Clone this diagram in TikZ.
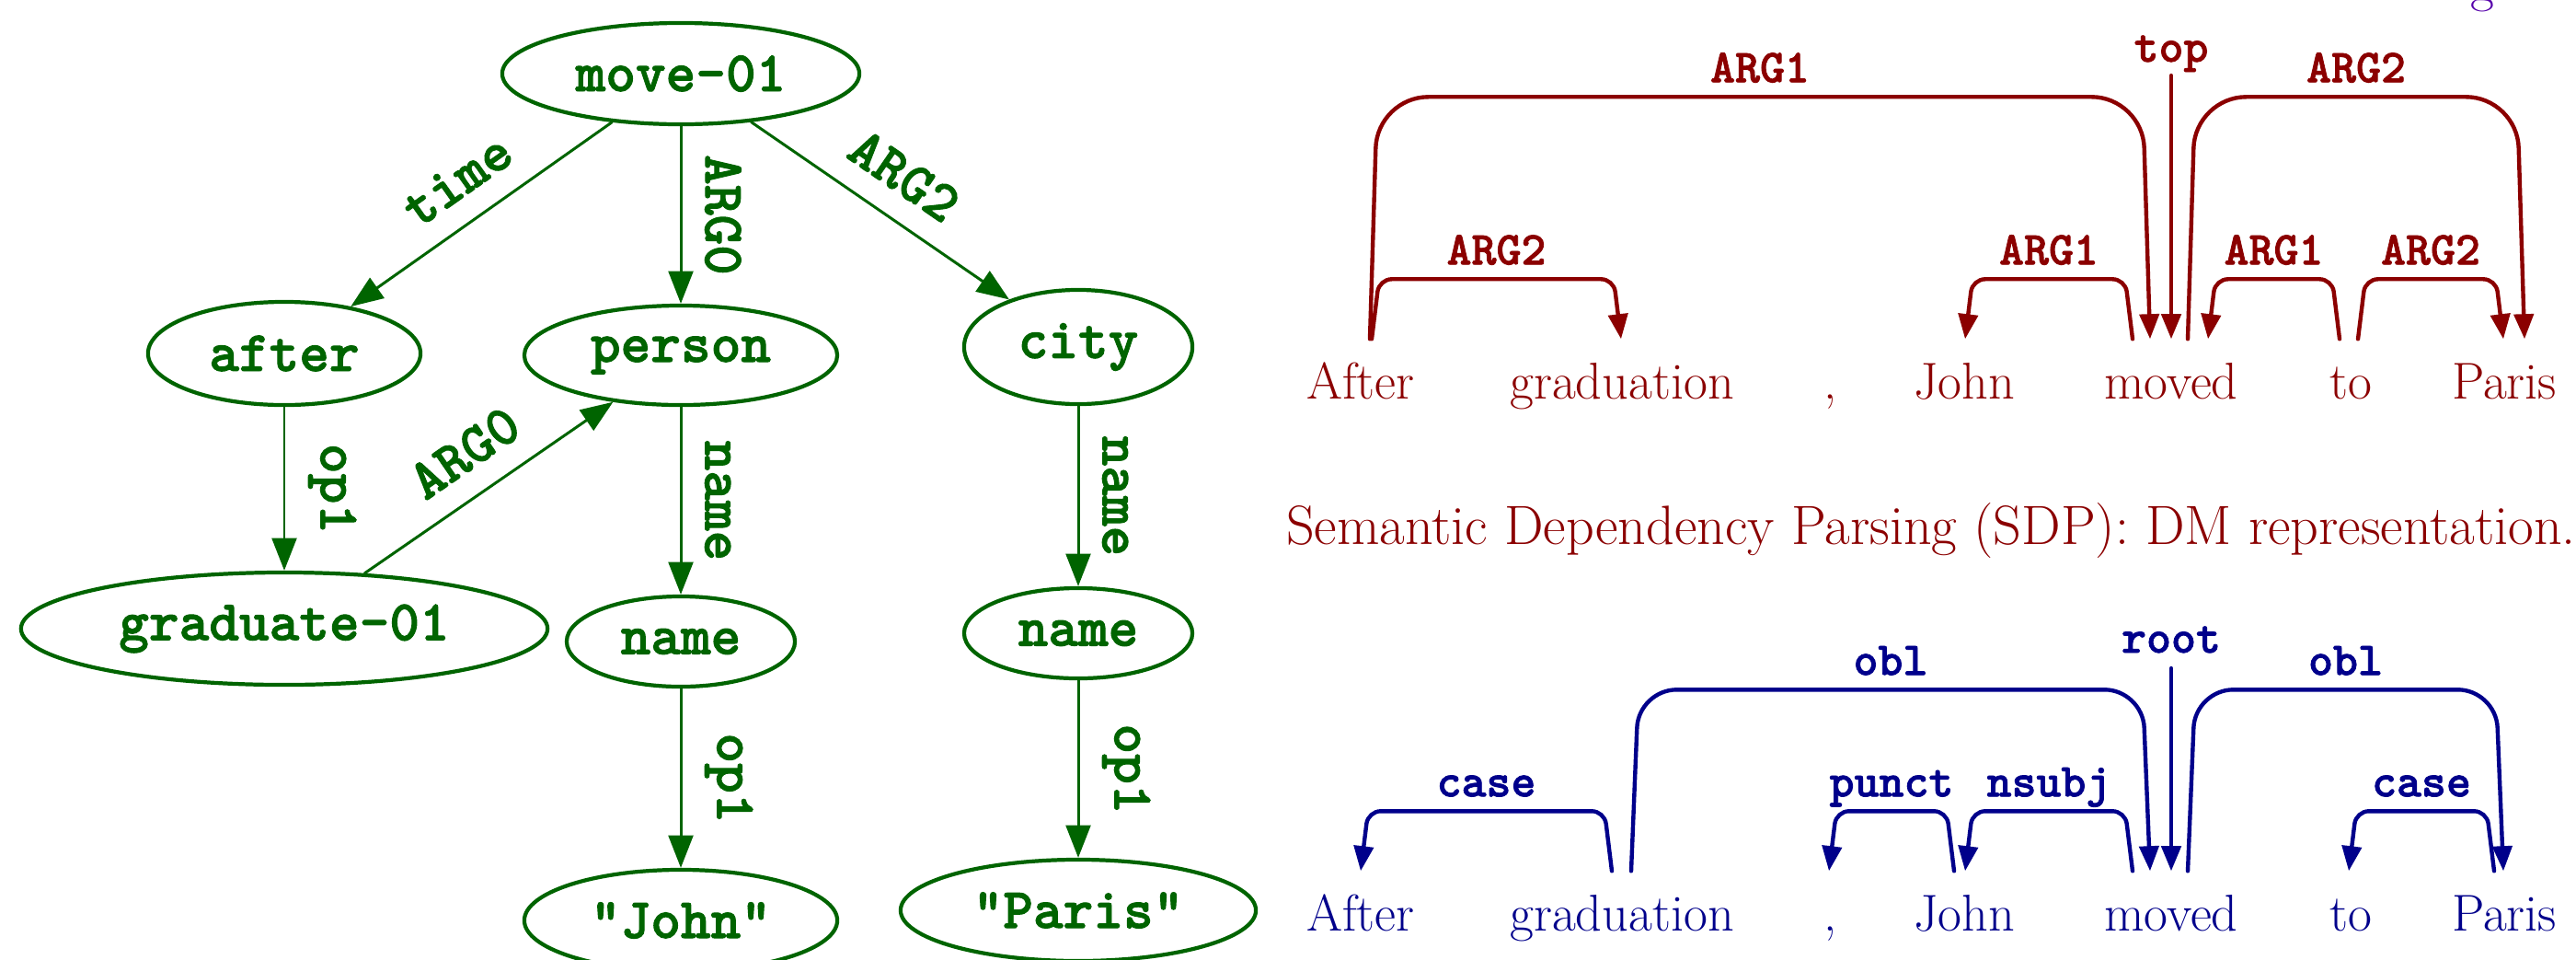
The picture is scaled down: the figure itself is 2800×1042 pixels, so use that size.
\documentclass[tikz,border=0pt]{standalone}
\usepackage{fontspec}
\usepackage{xcolor}
\usepackage{tikz}
\usetikzlibrary{shapes,arrows.meta,positioning,calc}

\newfontfamily\codefont[FakeBold=1.5]{lmmonolt10-bold.otf}

\definecolor{amrgreen}{RGB}{0,100,0}
\definecolor{dmred}{RGB}{139,0,0}
\definecolor{udblue}{RGB}{0,0,139}
\definecolor{capviolet}{RGB}{85,0,170}

\begin{document}
\begin{tikzpicture}[x=0.01cm, y=-0.01cm, line cap=round,
  amr/.style={ellipse, draw, line width=1.2pt, inner sep=0pt, font=\fontsize{17.7}{21}\codefont},
  rel/.style={line width=0.85pt, -{Triangle[length=10pt, width=7.6pt]}},
  rellabel/.style={sloped, above, inner sep=7pt, font=\fontsize{17.7}{21}\codefont},
  word/.style={anchor=base, inner xsep=0pt, inner ysep=6.2pt, text height=12pt, text depth=3pt, font=\fontsize{16}{19}\selectfont},
  dep/.style={line width=1.25pt, -{Triangle[length=7.7pt, width=6pt]}},
  deplabel/.style={anchor=base, inner sep=0pt, font=\fontsize{14.6}{17}\codefont},
  arclabel/.style={deplabel, yshift=0.16cm}]
\useasboundingbox (0,0) rectangle (2800,1042);

% AMR graph
\begin{scope}[amrgreen]
\node [amr, minimum width=3.88cm, minimum height=1.1cm] (move) at (740,80) {move-01};
\node [amr, minimum width=2.96cm, minimum height=1.12cm] (after) at (309,384) {after};
\node [amr, minimum width=3.40cm, minimum height=1.08cm] (person) at (740,386) {person};
\node [amr, minimum width=2.48cm, minimum height=1.24cm] (city) at (1172,377) {city};
\node [amr, minimum width=5.72cm, minimum height=1.22cm] (graduate) at (309,683) {graduate-01};
\node [amr, minimum width=2.48cm, minimum height=0.98cm] (name1) at (740,697) {name};
\node [amr, minimum width=2.48cm, minimum height=0.98cm] (name2) at (1172,688) {name};
\node [amr, minimum width=3.40cm, minimum height=1.1cm] (john) at (740,1000) {"John"};
\node [amr, minimum width=3.86cm, minimum height=1.1cm] (paris) at (1172,989) {"Paris"};

% Relations
\foreach \a/\b/\l in {move/after/time, move/city/ARG2, graduate/person/ARG0}
  \draw [rel] (\a) -- node [rellabel] {\l} (\b);

\foreach \a/\b/\l in {move/person/ARG0, after/graduate/op1, person/name1/name, name1/john/op1, city/name2/name, name2/paris/op1}
  \draw [rel] (\a) -- node [rellabel, allow upside down] {\l} (\b);
\end{scope}

% clipped caption above
\node [anchor=base, inner sep=0pt, capviolet, font=\fontsize{16}{19}\selectfont] (capg) at (2698,1) {g};

% DM graph
\foreach \w/\x [count=\i] in {After/1479, graduation/1763, {,}/1990, John/2135, moved/2360, to/2555, Paris/2722}
  \node [word, dmred] (dm-\i) at (\x,433) {\w};

\foreach \a/\sa/\b/\sb/\h/\s/\l in {1/10/5/-23/263/8/ARG1, 1/12/2/-1/65/8/ARG2, 5/-42/4/1/65/-8/ARG1, 5/18/7/22/263/8/ARG2, 6/-12/5/40/65/-8/ARG1, 6/8/7/-1/65/8/ARG2}
{
  \pgfmathsetmacro\r{0.06*\h}
  \draw [dep, dmred, rounded corners=\r pt] ([xshift=\sa*0.01cm]dm-\a.north) -- ++(\s,-\h) coordinate (p)
    -- node [arclabel] {\l} ($(p -| dm-\b.north)+(\sb-\s,0)$) -- ([xshift=\sb*0.01cm]dm-\b.north);
}

\node [deplabel, dmred] (dmtop) at (2360,67) {top};
\draw [dep, dmred] ([yshift=-0.15cm]dmtop.base) -- (dm-5.north);

\node [anchor=base, inner sep=0pt, dmred, font=\fontsize{17.1}{20}\selectfont] (sdpcap) at (2099,591) {Semantic Dependency Parsing (SDP): DM representation.};

% UD graph
\foreach \w/\x [count=\i] in {After/1479, graduation/1763, {,}/1990, John/2135, moved/2360, to/2555, Paris/2722}
  \node [word, udblue] (ud-\i) at (\x,1011) {\w};

\foreach \a/\sa/\b/\sb/\h/\s/\l in {2/-11/1/0/65/-8/case, 2/10/5/-23/197/8/obl, 4/-11/3/-2/65/-8/punct, 5/-42/4/1/65/-8/nsubj, 5/18/7/-1/197/8/obl, 7/-11/6/-2/65/-8/case}
{
  \pgfmathsetmacro\r{0.06*\h}
  \draw [dep, udblue, rounded corners=\r pt] ([xshift=\sa*0.01cm]ud-\a.north) -- ++(\s,-\h) coordinate (p)
    -- node [arclabel] {\l} ($(p -| ud-\b.north)+(\sb-\s,0)$) -- ([xshift=\sb*0.01cm]ud-\b.north);
}

\node [deplabel, udblue] (udroot) at (2360,709) {root};
\draw [dep, udblue] ([yshift=-0.17cm]udroot.base) -- (ud-5.north);
\end{tikzpicture}
\end{document}
